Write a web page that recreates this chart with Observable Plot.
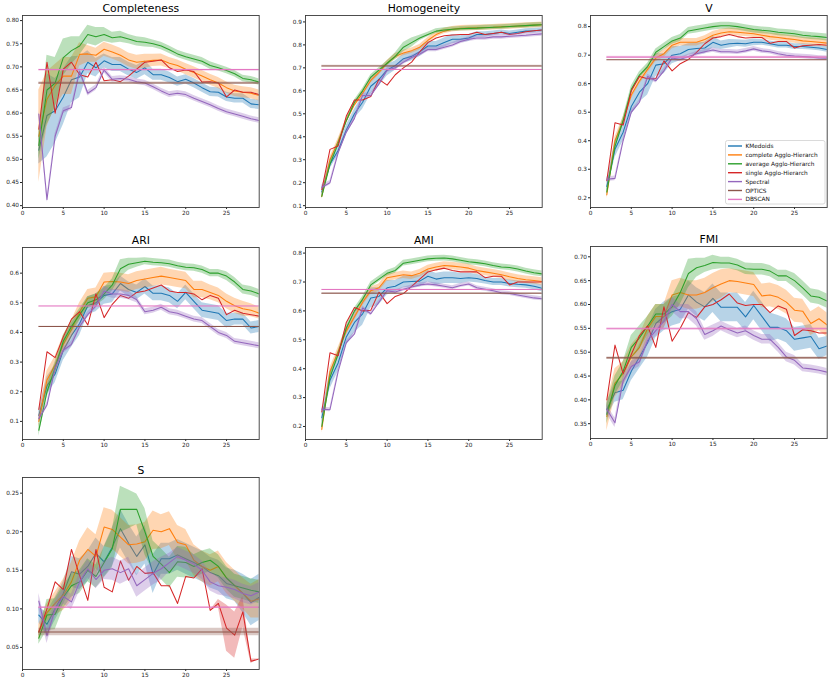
<!DOCTYPE html>
<html><head><meta charset="utf-8">
<script src="https://cdn.jsdelivr.net/npm/d3@7"></script>
<script src="https://cdn.jsdelivr.net/npm/@observablehq/plot@0.6"></script>
<style>
body{margin:0;background:#fff;}
#root{position:relative;width:830px;height:683px;overflow:hidden;font-family:"DejaVu Sans",sans-serif;}
</style></head><body><div id="root"></div>
<script>
// number of clusters
const ks = [2,3,4,5,6,7,8,9,10,11,12,13,14,15,16,17,18,19,20,21,22,23,24,25,26,27,28,29];
const seriesNames = ["KMedoids","complete Agglo-Hierarch","average Agglo-Hierarch","single Agglo-Hierarch","Spectral","OPTICS","DBSCAN"];
const colors = ["#1f77b4","#ff7f0e","#2ca02c","#d62728","#9467bd","#8c564b","#e377c2"];
const xTicks = [0,5,10,15,20,25];

// Completeness
const compKM = [0.52,0.595,0.605,0.635,0.672,0.678,0.71,0.698,0.713,0.705,0.705,0.695,0.688,0.698,0.683,0.683,0.677,0.668,0.673,0.665,0.655,0.646,0.645,0.635,0.632,0.632,0.62,0.618];
const compCO = [0.55,0.63,0.66,0.68,0.68,0.727,0.728,0.725,0.738,0.732,0.725,0.715,0.71,0.712,0.714,0.715,0.708,0.703,0.695,0.688,0.68,0.672,0.665,0.655,0.648,0.645,0.643,0.638];
const compAV = [0.53,0.65,0.665,0.72,0.735,0.745,0.77,0.765,0.77,0.763,0.765,0.76,0.755,0.753,0.75,0.745,0.737,0.728,0.722,0.717,0.712,0.703,0.698,0.692,0.685,0.675,0.672,0.667];
const compSI = [0.565,0.71,0.60,0.695,0.71,0.683,0.678,0.71,0.67,0.672,0.668,0.68,0.695,0.71,0.712,0.715,0.698,0.69,0.693,0.69,0.667,0.668,0.665,0.635,0.65,0.645,0.645,0.64];
const compSP = [0.598,0.413,0.55,0.605,0.612,0.69,0.643,0.655,0.693,0.673,0.675,0.673,0.668,0.665,0.657,0.648,0.64,0.643,0.64,0.632,0.625,0.618,0.61,0.603,0.598,0.593,0.588,0.584];
const compKMb = [0.03,0.09,0.07,0.06,0.05,0.045,0.025,0.02,0.015,0.015,0.015,0.015,0.015,0.015,0.012,0.012,0.012,0.01,0.01,0.01,0.01,0.01,0.01,0.01,0.01,0.01,0.01,0.01];
const compCOb = [0.1,0.06,0.045,0.04,0.04,0.025,0.018,0.015,0.015,0.015,0.015,0.015,0.015,0.015,0.013,0.013,0.012,0.012,0.012,0.012,0.012,0.012,0.012,0.012,0.012,0.012,0.012,0.012];
const compAVb = [0.03,0.075,0.055,0.04,0.03,0.02,0.02,0.02,0.015,0.012,0.012,0.01,0.01,0.01,0.008,0.008,0.008,0.008,0.008,0.008,0.008,0.008,0.007,0.007,0.007,0.007,0.007,0.007];
const compSPb = 0.006;
const compRef = [0.665,0.694];
const compTicks = [0.40,0.45,0.50,0.55,0.60,0.65,0.70,0.75,0.80];

// Homogeneity
const homKM = [0.16,0.28,0.34,0.43,0.5,0.55,0.62,0.65,0.69,0.71,0.74,0.75,0.77,0.795,0.795,0.81,0.825,0.825,0.83,0.845,0.845,0.85,0.855,0.85,0.855,0.86,0.862,0.865];
const homCO = [0.14,0.3,0.38,0.47,0.54,0.59,0.645,0.68,0.72,0.75,0.765,0.775,0.79,0.82,0.845,0.86,0.868,0.872,0.874,0.875,0.876,0.877,0.879,0.88,0.882,0.884,0.886,0.888];
const homAV = [0.14,0.28,0.37,0.47,0.55,0.6,0.66,0.69,0.72,0.75,0.79,0.81,0.83,0.845,0.86,0.865,0.868,0.87,0.872,0.873,0.875,0.877,0.878,0.88,0.882,0.884,0.886,0.888];
const homSI = [0.17,0.345,0.36,0.49,0.56,0.56,0.575,0.65,0.625,0.67,0.70,0.725,0.77,0.81,0.83,0.84,0.843,0.845,0.845,0.855,0.845,0.85,0.855,0.845,0.85,0.857,0.862,0.865];
const homSP = [0.18,0.2,0.33,0.42,0.48,0.58,0.58,0.63,0.69,0.70,0.725,0.745,0.76,0.78,0.78,0.79,0.80,0.815,0.825,0.83,0.83,0.835,0.835,0.838,0.84,0.842,0.845,0.848];
const homKMb = [0.02,0.02,0.02,0.02,0.02,0.03,0.035,0.03,0.025,0.02,0.02,0.02,0.02,0.02,0.02,0.02,0.02,0.015,0.015,0.012,0.012,0.01,0.01,0.01,0.01,0.01,0.01,0.01];
const homCOb = 0.012;
const homAVb = [0.01,0.01,0.01,0.01,0.01,0.01,0.01,0.01,0.01,0.015,0.02,0.02,0.012,0.01,0.01,0.01,0.01,0.01,0.01,0.01,0.01,0.01,0.01,0.01,0.01,0.01,0.01,0.01];
const homSPb = 0.01;
const homRef = [0.708,0.693];
const homTicks = [0.1,0.2,0.3,0.4,0.5,0.6,0.7,0.8,0.9];

// V
const vKM = [0.24,0.37,0.43,0.52,0.57,0.60,0.665,0.67,0.70,0.705,0.72,0.723,0.725,0.745,0.735,0.74,0.742,0.74,0.745,0.745,0.74,0.735,0.735,0.73,0.73,0.728,0.725,0.72];
const vCO = [0.21,0.40,0.47,0.56,0.61,0.65,0.69,0.705,0.735,0.745,0.745,0.745,0.755,0.77,0.778,0.782,0.78,0.778,0.775,0.77,0.765,0.762,0.758,0.755,0.75,0.748,0.745,0.742];
const vAV = [0.22,0.38,0.47,0.58,0.63,0.66,0.71,0.73,0.75,0.76,0.785,0.79,0.795,0.80,0.803,0.803,0.80,0.795,0.79,0.787,0.785,0.78,0.778,0.775,0.77,0.767,0.765,0.762];
const vSI = [0.26,0.463,0.455,0.575,0.625,0.617,0.617,0.68,0.645,0.67,0.685,0.71,0.74,0.76,0.765,0.772,0.765,0.76,0.762,0.762,0.742,0.748,0.748,0.725,0.733,0.735,0.737,0.735];
const vSP = [0.265,0.268,0.40,0.50,0.535,0.625,0.61,0.645,0.69,0.685,0.695,0.705,0.712,0.718,0.712,0.712,0.71,0.715,0.722,0.715,0.712,0.705,0.70,0.697,0.695,0.693,0.69,0.689];
const vKMb = [0.02,0.03,0.03,0.03,0.035,0.04,0.04,0.035,0.03,0.025,0.02,0.02,0.02,0.02,0.015,0.015,0.012,0.012,0.012,0.01,0.01,0.01,0.01,0.01,0.01,0.01,0.01,0.01];
const vCOb = 0.013;
const vAVb = 0.012;
const vSPb = 0.008;
const vRef = [0.684,0.693];
const vTicks = [0.2,0.3,0.4,0.5,0.6,0.7,0.8];

// ARI
const ariKM = [0.12,0.22,0.26,0.34,0.39,0.43,0.49,0.50,0.525,0.53,0.565,0.545,0.535,0.555,0.532,0.532,0.525,0.505,0.535,0.505,0.475,0.47,0.465,0.44,0.445,0.445,0.415,0.42];
const ariCO = [0.10,0.24,0.29,0.36,0.41,0.47,0.515,0.52,0.57,0.572,0.57,0.565,0.575,0.58,0.585,0.59,0.585,0.58,0.575,0.545,0.545,0.535,0.525,0.505,0.49,0.48,0.475,0.465];
const ariAV = [0.07,0.2,0.28,0.37,0.42,0.46,0.50,0.51,0.53,0.56,0.615,0.63,0.635,0.64,0.637,0.635,0.632,0.625,0.62,0.618,0.612,0.60,0.60,0.59,0.57,0.545,0.54,0.53];
const ariSI = [0.14,0.335,0.315,0.385,0.445,0.47,0.425,0.53,0.45,0.495,0.525,0.515,0.535,0.54,0.55,0.56,0.54,0.535,0.535,0.53,0.51,0.525,0.515,0.46,0.475,0.465,0.46,0.455];
const ariSP = [0.11,0.155,0.28,0.34,0.36,0.42,0.46,0.49,0.54,0.53,0.53,0.525,0.51,0.47,0.475,0.485,0.47,0.465,0.455,0.445,0.44,0.42,0.40,0.39,0.37,0.365,0.36,0.355];
const ariKMb = [0.02,0.03,0.03,0.035,0.04,0.04,0.03,0.03,0.03,0.03,0.025,0.025,0.025,0.025,0.025,0.025,0.025,0.025,0.025,0.025,0.025,0.025,0.025,0.025,0.02,0.02,0.02,0.02];
const ariCOb = [0.02,0.03,0.03,0.03,0.03,0.03,0.03,0.03,0.03,0.03,0.03,0.03,0.03,0.03,0.03,0.03,0.028,0.028,0.028,0.028,0.028,0.025,0.025,0.025,0.025,0.025,0.022,0.02];
const ariAVb = [0.02,0.02,0.02,0.02,0.02,0.02,0.02,0.02,0.02,0.02,0.03,0.02,0.015,0.012,0.012,0.012,0.012,0.012,0.012,0.012,0.012,0.012,0.012,0.015,0.015,0.015,0.015,0.015];
const ariSPb = [0.01,0.01,0.01,0.01,0.01,0.01,0.01,0.01,0.015,0.015,0.015,0.015,0.01,0.01,0.01,0.01,0.01,0.01,0.01,0.01,0.01,0.01,0.01,0.01,0.01,0.01,0.01,0.01];
const ariRef = [0.42,0.489];
const ariTicks = [0.1,0.2,0.3,0.4,0.5,0.6];

// AMI
const amiKM = [0.23,0.36,0.42,0.51,0.56,0.59,0.645,0.65,0.68,0.685,0.70,0.702,0.703,0.72,0.71,0.715,0.715,0.712,0.715,0.712,0.705,0.70,0.70,0.695,0.692,0.69,0.685,0.678];
const amiCO = [0.19,0.39,0.46,0.53,0.58,0.63,0.67,0.68,0.715,0.72,0.725,0.722,0.73,0.745,0.752,0.757,0.755,0.752,0.748,0.74,0.735,0.73,0.725,0.718,0.712,0.708,0.705,0.702];
const amiAV = [0.2,0.37,0.45,0.54,0.60,0.64,0.69,0.71,0.73,0.74,0.765,0.77,0.775,0.78,0.782,0.783,0.78,0.775,0.77,0.767,0.763,0.757,0.752,0.75,0.745,0.738,0.732,0.728];
const amiSI = [0.25,0.455,0.445,0.56,0.612,0.60,0.602,0.665,0.625,0.65,0.66,0.685,0.71,0.735,0.742,0.748,0.74,0.735,0.735,0.735,0.715,0.72,0.72,0.69,0.70,0.70,0.70,0.70];
const amiSP = [0.26,0.258,0.39,0.49,0.52,0.61,0.59,0.63,0.67,0.665,0.675,0.683,0.69,0.693,0.69,0.685,0.68,0.688,0.693,0.68,0.675,0.67,0.663,0.66,0.655,0.65,0.645,0.642];
const amiKMb = [0.02,0.03,0.03,0.03,0.035,0.04,0.035,0.03,0.025,0.02,0.02,0.02,0.02,0.02,0.02,0.02,0.02,0.018,0.015,0.015,0.012,0.012,0.012,0.012,0.012,0.012,0.012,0.012];
const amiCOb = 0.013;
const amiAVb = 0.01;
const amiSPb = 0.007;
const amiRef = [0.661,0.674];
const amiTicks = [0.2,0.3,0.4,0.5,0.6,0.7,0.8];

// FMI
const fmiKM = [0.38,0.415,0.42,0.46,0.49,0.52,0.56,0.575,0.585,0.59,0.62,0.605,0.595,0.613,0.594,0.594,0.594,0.574,0.598,0.575,0.552,0.552,0.545,0.527,0.53,0.533,0.507,0.513];
const fmiCO = [0.365,0.435,0.455,0.49,0.51,0.55,0.575,0.575,0.62,0.625,0.62,0.62,0.625,0.635,0.643,0.65,0.648,0.645,0.642,0.618,0.62,0.615,0.605,0.588,0.586,0.56,0.57,0.557];
const fmiAV = [0.37,0.43,0.46,0.51,0.53,0.555,0.58,0.58,0.595,0.625,0.665,0.677,0.682,0.688,0.687,0.687,0.683,0.675,0.674,0.674,0.67,0.66,0.66,0.65,0.635,0.618,0.615,0.607];
const fmiSI = [0.40,0.515,0.455,0.495,0.535,0.555,0.51,0.595,0.523,0.55,0.583,0.573,0.595,0.60,0.61,0.622,0.603,0.598,0.60,0.60,0.583,0.597,0.59,0.535,0.547,0.545,0.54,0.54];
const fmiSP = [0.38,0.352,0.44,0.47,0.48,0.525,0.545,0.565,0.60,0.585,0.585,0.57,0.537,0.545,0.555,0.547,0.54,0.545,0.535,0.527,0.527,0.51,0.49,0.483,0.467,0.465,0.462,0.458];
const fmiKMb = [0.015,0.02,0.02,0.02,0.025,0.03,0.03,0.03,0.03,0.03,0.03,0.03,0.03,0.03,0.03,0.03,0.03,0.03,0.03,0.03,0.03,0.025,0.025,0.025,0.025,0.025,0.022,0.02];
const fmiCOb = [0.03,0.03,0.025,0.025,0.025,0.025,0.025,0.025,0.03,0.03,0.03,0.03,0.03,0.03,0.03,0.025,0.025,0.025,0.025,0.025,0.025,0.025,0.025,0.025,0.025,0.025,0.025,0.025];
const fmiAVb = [0.02,0.02,0.02,0.025,0.025,0.02,0.02,0.02,0.02,0.025,0.03,0.02,0.015,0.015,0.012,0.012,0.012,0.012,0.012,0.012,0.012,0.012,0.012,0.015,0.015,0.015,0.015,0.015];
const fmiSPb = [0.01,0.01,0.01,0.01,0.01,0.01,0.012,0.015,0.015,0.015,0.015,0.015,0.012,0.012,0.01,0.01,0.01,0.01,0.01,0.01,0.01,0.01,0.01,0.01,0.008,0.008,0.008,0.008];
const fmiRef = [0.488,0.549];
const fmiTicks = [0.35,0.40,0.45,0.50,0.55,0.60,0.65,0.70];

// S
const sKM = [0.092,0.08,0.1,0.12,0.148,0.145,0.155,0.172,0.161,0.18,0.204,0.185,0.168,0.183,0.145,0.165,0.165,0.17,0.165,0.16,0.155,0.147,0.143,0.133,0.13,0.12,0.108,0.115];
const sCO = [0.07,0.095,0.107,0.118,0.135,0.163,0.177,0.168,0.206,0.203,0.193,0.183,0.184,0.187,0.202,0.2,0.204,0.186,0.183,0.163,0.155,0.15,0.155,0.14,0.13,0.12,0.11,0.113];
const sAV = [0.062,0.092,0.093,0.115,0.13,0.135,0.15,0.142,0.16,0.178,0.229,0.229,0.229,0.2,0.168,0.158,0.147,0.161,0.16,0.155,0.16,0.163,0.155,0.14,0.13,0.127,0.124,0.122];
const sSI = [0.07,0.1,0.135,0.125,0.177,0.143,0.111,0.177,0.128,0.122,0.162,0.137,0.155,0.146,0.147,0.13,0.13,0.107,0.142,0.14,0.152,0.098,0.107,0.075,0.066,0.096,0.032,0.035];
const sSP = [0.11,0.065,0.1,0.116,0.109,0.135,0.152,0.138,0.15,0.152,0.147,0.152,0.13,0.138,0.146,0.152,0.16,0.168,0.163,0.158,0.15,0.135,0.13,0.128,0.125,0.12,0.117,0.122];
const sKMb = [0.01,0.015,0.015,0.015,0.02,0.02,0.02,0.02,0.02,0.025,0.025,0.025,0.025,0.025,0.025,0.02,0.02,0.02,0.02,0.02,0.02,0.02,0.02,0.02,0.02,0.025,0.03,0.03];
const sCOb = [0.01,0.012,0.015,0.02,0.025,0.025,0.028,0.028,0.025,0.025,0.025,0.025,0.025,0.025,0.025,0.022,0.022,0.022,0.02,0.02,0.02,0.02,0.02,0.02,0.02,0.02,0.022,0.025];
const sAVb = [0.008,0.02,0.02,0.015,0.015,0.015,0.015,0.015,0.02,0.025,0.03,0.025,0.02,0.03,0.02,0.02,0.02,0.02,0.02,0.015,0.015,0.015,0.015,0.015,0.015,0.015,0.015,0.015];
const sSIb = [0,0,0,0,0,0,0,0,0,0,0,0,0,0,0,0,0,0,0,0,0,0,0.005,0.03,0.03,0.02,0.003,0];
const sSPb = [0.01,0.01,0.01,0.01,0.01,0.012,0.012,0.012,0.012,0.015,0.015,0.015,0.015,0.015,0.015,0.015,0.012,0.012,0.012,0.012,0.012,0.012,0.012,0.012,0.012,0.012,0.012,0.012];
const sRef = [0.070,0.102];
const sTicks = [0.05,0.10,0.15,0.20,0.25];

const panels = [
  {title:"Completeness", L:22, T:15, means:[compKM,compCO,compAV,compSI,compSP], bands:[compKMb,compCOb,compAVb,0,compSPb], ref:compRef, refBand:[0.002,0.001], dom:[0.396,0.811], ticks:compTicks, fmt:".2f"},
  {title:"Homogeneity", L:305.3, T:15.3, means:[homKM,homCO,homAV,homSI,homSP], bands:[homKMb,homCOb,homAVb,0,homSPb], ref:homRef, refBand:[0.003,0.001], dom:[0.092,0.928], ticks:homTicks, fmt:".1f"},
  {title:"V", L:589.7, T:15.3, means:[vKM,vCO,vAV,vSI,vSP], bands:[vKMb,vCOb,vAVb,0,vSPb], ref:vRef, refBand:[0.001,0.003], dom:[0.166,0.839], ticks:vTicks, fmt:".1f"},
  {title:"ARI", L:22, T:246.5, means:[ariKM,ariCO,ariAV,ariSI,ariSP], bands:[ariKMb,ariCOb,ariAVb,0,ariSPb], ref:ariRef, refBand:[0.001,0.001], dom:[0.039,0.6865], ticks:ariTicks, fmt:".1f"},
  {title:"AMI", L:305.3, T:246.5, means:[amiKM,amiCO,amiAV,amiSI,amiSP], bands:[amiKMb,amiCOb,amiAVb,0,amiSPb], ref:amiRef, refBand:[0.002,0.001], dom:[0.155,0.8194], ticks:amiTicks, fmt:".1f"},
  {title:"FMI", L:589.7, T:246.3, means:[fmiKM,fmiCO,fmiAV,fmiSI,fmiSP], bands:[fmiKMb,fmiCOb,fmiAVb,0,fmiSPb], ref:fmiRef, refBand:[0.002,0.002], dom:[0.319,0.7216], ticks:fmiTicks, fmt:".2f"},
  {title:"S", L:22, T:476.7, means:[sKM,sCO,sAV,sSI,sSP], bands:[sKMb,sCOb,sAVb,sSIb,sSPb], ref:sRef, refBand:[0.005,0.001], dom:[0.0214,0.2703], ticks:sTicks, fmt:".2f"}
];

const W = 236.7, H = 192;
const ml = 22, mr = 3, mt = 16, mb = 14;
const root = document.getElementById("root");
const bw = (b, i) => Array.isArray(b) ? b[i] : b;

for (const p of panels) {
  const marks = [];
  const all = [];
  p.means.forEach((m, s) => {
    const rows = ks.map((k, i) => ({x: k, y: m[i], lo: m[i] - bw(p.bands[s], i), hi: m[i] + bw(p.bands[s], i)}));
    all.push({rows, color: colors[s]});
  });
  p.ref.forEach((v, j) => {
    const rows = ks.map(k => ({x: k, y: v, lo: v - p.refBand[j], hi: v + p.refBand[j]}));
    all.push({rows, color: colors[5 + j]});
  });
  for (const a of all) {
    marks.push(Plot.areaY(a.rows, {x: "x", y1: "lo", y2: "hi", fill: a.color, fillOpacity: 0.32, clip: true}));
    marks.push(Plot.line(a.rows, {x: "x", y: "y", stroke: a.color, strokeWidth: 1.05, clip: true}));
  }
  marks.push(Plot.axisX({ticks: xTicks, tickSize: 2, tickPadding: 1.5, tickFormat: d => String(d), label: null}));
  marks.push(Plot.axisY({ticks: p.ticks, tickSize: 2, tickPadding: 1.5, tickFormat: d3.format(p.fmt), label: null}));
  marks.push(Plot.frame({stroke: "#3a3a3a", strokeWidth: 0.9}));
  marks.push(Plot.text([p.title], {text: d => d, frameAnchor: "top", lineAnchor: "middle", dy: -7, fontSize: 10.8, fill: "#000"}));

  const svg = Plot.plot({
    width: W + ml + mr, height: H + mt + mb,
    marginLeft: ml, marginRight: mr, marginTop: mt, marginBottom: mb,
    x: {domain: [0, 29], label: null},
    y: {domain: p.dom, label: null},
    style: {fontFamily: "DejaVu Sans", fontSize: "5.8px", color: "#222", background: "transparent", overflow: "visible"},
    marks
  });
  svg.style.position = "absolute";
  svg.style.left = (p.L - ml) + "px";
  svg.style.top = (p.T - mt) + "px";
  svg.style.maxWidth = "none";
  root.appendChild(svg);
}

// Legend (inside the V panel)
const lg = d3.create("svg")
  .attr("width", 101).attr("height", 65)
  .style("position", "absolute").style("left", "725px").style("top", "140px")
  .style("font-family", "DejaVu Sans");
lg.append("rect").attr("x", 0.5).attr("y", 0.5).attr("width", 99.5).attr("height", 63.5)
  .attr("rx", 2).attr("fill", "rgba(255,255,255,0.85)").attr("stroke", "#d0d0d0").attr("stroke-width", 0.8);
seriesNames.forEach((name, i) => {
  const y = 6 + i * 8.9;
  lg.append("line").attr("x1", 3).attr("x2", 17).attr("y1", y).attr("y2", y)
    .attr("stroke", colors[i]).attr("stroke-width", 1.4);
  lg.append("text").attr("x", 20.5).attr("y", y).attr("dy", "0.35em")
    .attr("font-size", "5.8px").attr("fill", "#111").text(name);
});
root.appendChild(lg.node());
</script>
</body></html>
